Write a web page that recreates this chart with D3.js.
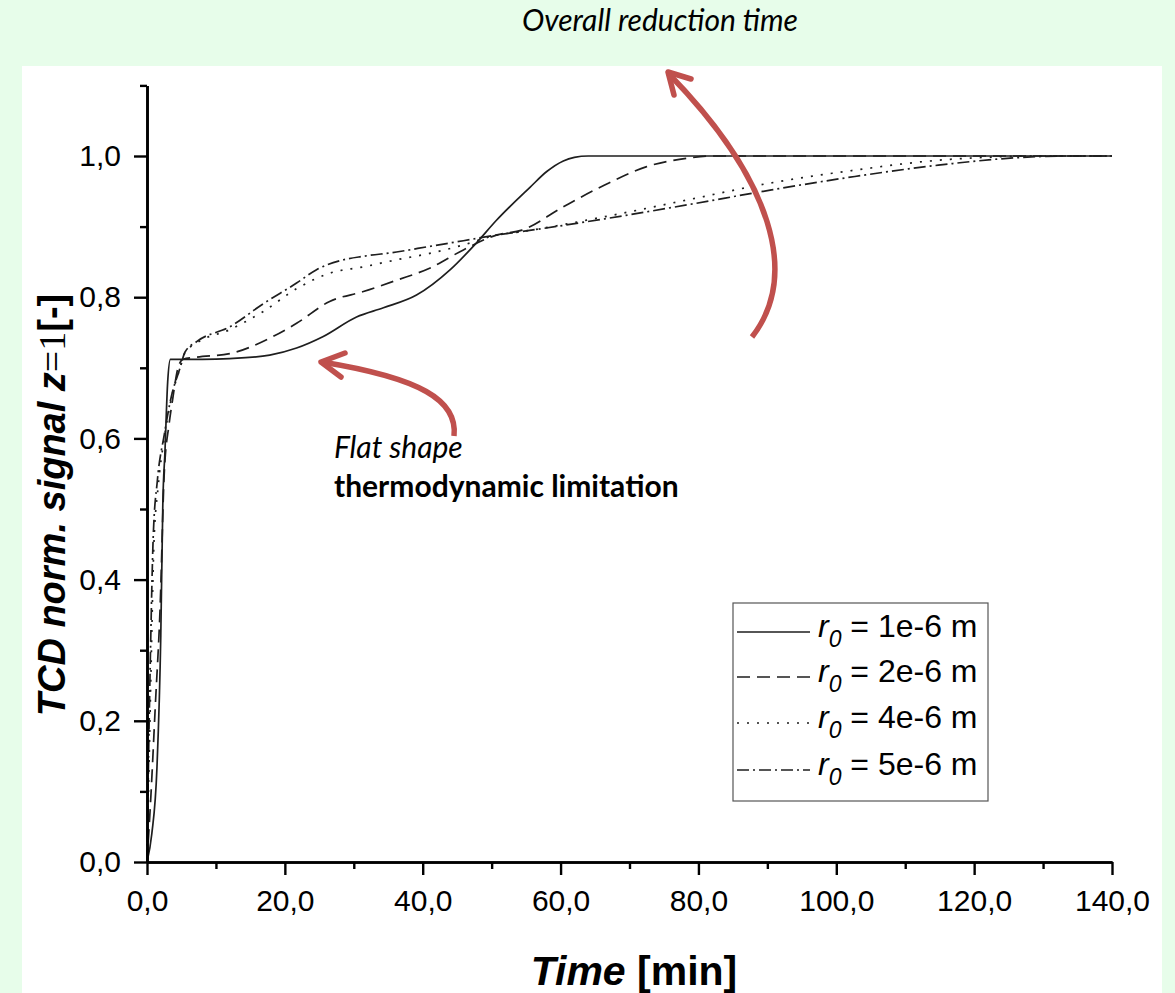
<!DOCTYPE html>
<html>
<head>
<meta charset="utf-8">
<script src="https://cdn.jsdelivr.net/npm/d3@7/dist/d3.min.js"></script>
<style>
  html, body { margin: 0; padding: 0; background: #e7fdea; }
  svg { display: block; }
</style>
</head>
<body>
<svg id="chart" width="1175" height="993"></svg>
<script>
// Time axis (min) and normalised TCD signal for four particle radii
const tSolid  = [0, 0.7, 1.45, 2.0, 2.3, 2.6, 3.0, 3.4, 8, 12, 17.8, 21.7, 25.5, 30.4, 34.3, 39.1, 44, 47.8, 50.7, 55.6, 58, 60.4, 62, 64, 70, 140];
const vSolid  = [0, 0.04, 0.135, 0.32, 0.51, 0.58, 0.68, 0.712, 0.712, 0.713, 0.718, 0.728, 0.744, 0.772, 0.785, 0.803, 0.839, 0.877, 0.909, 0.956, 0.978, 0.993, 0.998, 1.0, 1.0, 1.0];

const tDashed = [0, 0.6, 1.2, 1.9, 2.5, 3.2, 3.7, 4.5, 5.2, 7.2, 12, 17.8, 21.7, 26.5, 31.4, 36.2, 41, 45.9, 50.7, 54.4, 60.4, 66.4, 72.5, 78.5, 82.1, 90, 140];
const vDashed = [0, 0.1, 0.22, 0.36, 0.55, 0.62, 0.654, 0.70, 0.712, 0.715, 0.72, 0.742, 0.763, 0.794, 0.808, 0.824, 0.841, 0.867, 0.888, 0.895, 0.928, 0.959, 0.985, 0.997, 1.0, 1.0, 1.0];

const tDotted = [0, 0.3, 0.6, 1.0, 1.6, 2.5, 3.5, 4.8, 5.5, 7.2, 12, 16.9, 21.7, 26.5, 31.4, 36.2, 41, 45.9, 50.7, 54.4, 66.4, 78.5, 90.6, 102.7, 114.8, 123.9, 128, 140];
const vDotted = [0, 0.14, 0.28, 0.45, 0.53, 0.6, 0.655, 0.70, 0.721, 0.735, 0.754, 0.78, 0.812, 0.834, 0.843, 0.853, 0.862, 0.874, 0.888, 0.893, 0.914, 0.938, 0.962, 0.98, 0.994, 0.999, 1.0, 1.0];

const tDashDot = [0, 0.25, 0.55, 0.9, 1.5, 2.5, 3.5, 4.8, 5.5, 7.2, 12, 16.9, 21.7, 24.6, 28.5, 31.4, 36.2, 41, 45.9, 50.7, 54.4, 66.4, 78.5, 90.6, 102.7, 114.8, 126.9, 133, 140];
const vDashDot = [0, 0.16, 0.32, 0.46, 0.54, 0.605, 0.658, 0.70, 0.722, 0.737, 0.758, 0.791, 0.82, 0.839, 0.853, 0.858, 0.864, 0.872, 0.88, 0.888, 0.893, 0.911, 0.931, 0.952, 0.971, 0.987, 0.998, 1.0, 1.0];

const seriesNames = ["1e-6", "2e-6", "4e-6", "5e-6"];
const xTicksMajor = [0, 20, 40, 60, 80, 100, 120, 140];
const xTicksMinor = [10, 30, 50, 70, 90, 110, 130];
const yTicksMajor = [0, 0.2, 0.4, 0.6, 0.8, 1.0];
const yTicksMinor = [0.1, 0.3, 0.5, 0.7, 0.9, 1.1];

const series = [
  { name: seriesNames[0], t: tSolid,   v: vSolid,   dash: null },
  { name: seriesNames[1], t: tDashed,  v: vDashed,  dash: "13,7" },
  { name: seriesNames[2], t: tDotted,  v: vDotted,  dash: "2,8" },
  { name: seriesNames[3], t: tDashDot, v: vDashDot, dash: "12,4,2,4" }
];

const svg = d3.select("#chart");
const fmt = d => d3.format(".1f")(d).replace(".", ",");

// white plotting panel on the green page
svg.append("rect").attr("x", 22).attr("y", 66).attr("width", 1140).attr("height", 927).attr("fill", "#ffffff");

const x = d3.scaleLinear().domain([0, 140]).range([147, 1112]);
const y = d3.scaleLinear().domain([0, 1.1]).range([862, 85.4]);

const lineCol = "#1e1e1e";
const line = d3.line().x(d => x(d[0])).y(d => y(d[1])).curve(d3.curveMonotoneX);

const gLines = svg.append("g");
series.forEach(s => {
  const pts = s.t.map((t, i) => [t, s.v[i]]);
  gLines.append("path")
    .datum(pts)
    .attr("d", line)
    .attr("fill", "none")
    .attr("stroke", lineCol)
    .attr("stroke-width", 1.7)
    .attr("stroke-dasharray", s.dash);
});

// axes
const axisFont = "'Liberation Sans', Arial, sans-serif";
function styleAxis(g, size) {
  g.selectAll("path.domain").attr("stroke", "#000").attr("stroke-width", 2.6);
  g.selectAll(".tick line").attr("stroke", "#000").attr("stroke-width", 2.4);
  g.selectAll(".tick text").attr("fill", "#000").attr("font-family", axisFont).attr("font-size", size);
}

const gxMinor = svg.append("g").attr("transform", "translate(0,862)")
  .call(d3.axisBottom(x).tickValues(xTicksMinor).tickSize(7).tickSizeOuter(0).tickFormat(""));
styleAxis(gxMinor, 30);
const gx = svg.append("g").attr("transform", "translate(0,862)")
  .call(d3.axisBottom(x).tickValues(xTicksMajor).tickSize(13).tickSizeOuter(0).tickPadding(15).tickFormat(fmt));
styleAxis(gx, 30);

const gyMinor = svg.append("g").attr("transform", "translate(147,0)")
  .call(d3.axisLeft(y).tickValues(yTicksMinor).tickSize(7).tickSizeOuter(0).tickFormat(""));
styleAxis(gyMinor, 30);
const gy = svg.append("g").attr("transform", "translate(147,0)")
  .call(d3.axisLeft(y).tickValues(yTicksMajor).tickSize(13).tickSizeOuter(0).tickPadding(13).tickFormat(fmt));
styleAxis(gy, 30);

// axis titles
const xt = svg.append("text").attr("x", 634).attr("y", 985)
  .attr("text-anchor", "middle").attr("font-family", axisFont)
  .attr("font-size", 41).attr("font-weight", "bold").attr("fill", "#000");
xt.append("tspan").attr("font-style", "italic").text("Time");
xt.append("tspan").text(" [min]");

const yt = svg.append("text")
  .attr("transform", "translate(65,505) rotate(-90)")
  .attr("text-anchor", "middle").attr("font-family", axisFont)
  .attr("font-size", 38).attr("font-weight", "bold").attr("fill", "#000");
yt.append("tspan").attr("font-style", "italic").text("TCD norm. signal ");
yt.append("tspan").attr("font-style", "italic").text("z");
yt.append("tspan").attr("font-family", "'Liberation Serif', 'Times New Roman', serif").attr("font-weight", "normal").text("=1");
yt.append("tspan").text("[-]");

// legend
const lg = svg.append("g");
lg.append("rect").attr("x", 733).attr("y", 603).attr("width", 255).attr("height", 198)
  .attr("fill", "#fff").attr("stroke", "#555").attr("stroke-width", 1.2);
const rowY = [632, 677, 723, 770];
series.forEach((s, i) => {
  lg.append("line").attr("x1", 737).attr("x2", 810).attr("y1", rowY[i]).attr("y2", rowY[i])
    .attr("stroke", lineCol).attr("stroke-width", 1.5).attr("stroke-dasharray", s.dash);
  const t = lg.append("text").attr("x", 818).attr("y", rowY[i] + 5)
    .attr("font-family", axisFont).attr("font-size", 32).attr("fill", "#000");
  t.append("tspan").attr("font-style", "italic").text("r");
  t.append("tspan").attr("font-style", "italic").attr("font-size", 23).attr("dy", 10).text("0");
  t.append("tspan").attr("dy", -10).text(" = " + s.name + " m");
});

// annotations
const noteFont = "Lato, 'Open Sans', sans-serif";
svg.append("text").attr("x", 660).attr("y", 31).attr("text-anchor", "middle")
  .attr("font-family", noteFont).attr("font-style", "italic").attr("font-size", 30)
  .attr("fill", "#000").text("Overall reduction time");
svg.append("text").attr("x", 334).attr("y", 458)
  .attr("font-family", noteFont).attr("font-style", "italic").attr("font-size", 30)
  .attr("fill", "#000").text("Flat shape");
svg.append("text").attr("x", 334).attr("y", 497)
  .attr("font-family", noteFont).attr("font-weight", "bold").attr("font-size", 30)
  .attr("fill", "#000").text("thermodynamic limitation");

// curved red arrows
const red = "#c0504d";
const arrows = [
  { d: "M454,436 C458,400 420,378 322,362", head: "M345,353 L321,362 L341,377" },
  { d: "M752,337 C800,275 772,180 669,74", head: "M691,79 L668,72 L674,95" }
];
arrows.forEach(a => {
  svg.append("path").attr("d", a.d).attr("fill", "none").attr("stroke", red).attr("stroke-width", 5.5);
  svg.append("path").attr("d", a.head).attr("fill", "none").attr("stroke", red)
    .attr("stroke-width", 5.5).attr("stroke-linecap", "round").attr("stroke-linejoin", "round");
});
</script>
</body>
</html>
